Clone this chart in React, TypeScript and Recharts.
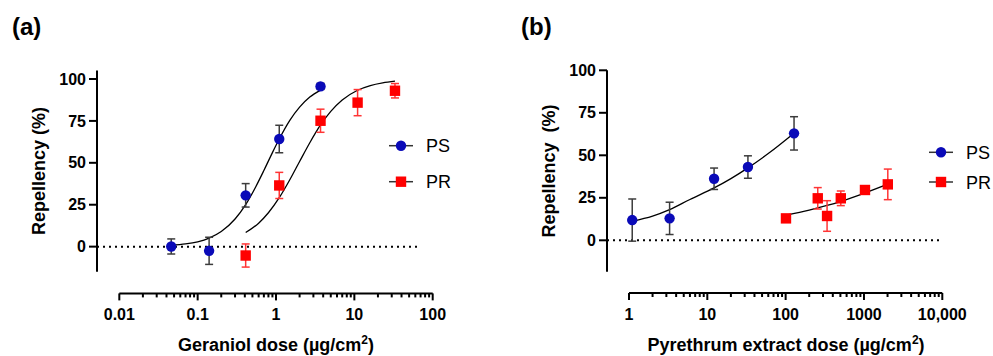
import { ComposedChart, Line, Scatter, ErrorBar, XAxis, YAxis, ReferenceLine } from 'recharts'

const FONT = '"Liberation Sans", Arial, Helvetica, sans-serif'
const BLUE = '#0a0ab8'
const RED = '#ff0000'
const PS_ERR = '#3c3c3c'
const PR_ERR = '#ff3535'

// (a) geraniol
const gerPsDose = [0.046, 0.14, 0.41, 1.1, 3.7]
const gerPsRep = [0.1, -2.5, 30.6, 64.2, 95.6]
const gerPsSem = [4.5, 8.1, 7.0, 8.2, 1.8]
const gerPrDose = [0.41, 1.1, 3.7, 11, 33]
const gerPrRep = [-5.3, 36.5, 75.1, 85.9, 93.0]
const gerPrSem = [6.9, 7.8, 6.9, 7.8, 4.3]
// fitted curves
const gerPsFitDose = [0.046, 0.07, 0.1, 0.14, 0.2, 0.3, 0.41, 0.55, 0.7, 0.9, 1.1, 1.5, 2, 2.7, 3.7]
const gerPsFitRep = [0.8, 1.6, 2.9, 5.1, 9.0, 16.5, 25.1, 35.6, 45.4, 56.1, 64.2, 75.3, 83.2, 89.2, 93.4]
const gerPrFitDose = [0.41, 0.6, 0.8, 1.1, 1.5, 2, 2.7, 3.7, 5, 7, 11, 16, 23, 33]
const gerPrFitRep = [8.4, 14.0, 20.2, 29.2, 39.9, 50.8, 62.0, 72.6, 80.7, 87.5, 93.3, 96.1, 97.7, 98.7]

// (b) pyrethrum extract
const pyrPsDose = [1.1, 3.3, 12.2, 33, 128]
const pyrPsRep = [11.9, 12.9, 36.2, 43.1, 62.9]
const pyrPsSem = [12.4, 9.5, 6.3, 6.6, 9.8]
const pyrPrDose = [101, 257, 338, 506, 1030, 2015]
const pyrPrRep = [12.9, 24.7, 14.3, 24.7, 29.6, 32.9]
const pyrPrSem = [1.5, 6.3, 9.0, 4.3, 2.5, 9.0]
const pyrPsFitDose = [1.1, 2, 3.3, 6, 12.2, 20, 33, 60, 128]
const pyrPsFitRep = [11.2, 14.2, 18.0, 24.0, 30.8, 36.3, 42.6, 51.0, 63.0]
const pyrPrFitDose = [101, 200, 338, 500, 1000, 2015]
const pyrPrFitRep = [14.8, 17.8, 20.5, 22.8, 27.6, 33.0]

const gerTicks = [0.01, 0.1, 1, 10, 100]
const gerTickLabels = ['0.01', '0.1', '1', '10', '100']
const pyrTicks = [1, 10, 100, 1000, 10000]
const pyrTickLabels = ['1', '10', '100', '1000', '10,000']
const repTicks = [0, 25, 50, 75, 100]

const points = (xs: number[], ys: number[], es?: number[]) =>
  xs.map((x, i) => ({ x, y: ys[i], err: es ? es[i] : 0 }))

const minorTicks = (majors: number[]) =>
  majors.slice(0, -1).flatMap((m) => [2, 3, 4, 5, 6, 7, 8, 9].map((k) => m * k))

function XTick(props: any) {
  const { x, y, payload, majors, labels } = props
  const idx = majors.findIndex((m: number) => Math.abs(m - payload.value) < m * 1e-6)
  const major = idx >= 0
  return (
    <g>
      <line x1={x} x2={x} y1={y} y2={y + (major ? 7 : 4)} stroke="#000" strokeWidth={2} />
      {major && (
        <text x={x} y={y + 27} textAnchor="middle" fontSize={16} fontWeight="bold" fontFamily={FONT} fill="#000">
          {labels[idx]}
        </text>
      )}
    </g>
  )
}

const Circle = (p: any) => <circle cx={p.cx} cy={p.cy} r={5.2} fill={BLUE} />
const Square = (p: any) => <rect x={p.cx - 5.2} y={p.cy - 5.2} width={10.4} height={10.4} fill={RED} />

type PanelProps = {
  left: number
  width: number
  margin: { top: number; right: number; bottom: number; left: number }
  xDomain: [number, number]
  yDomain: [number, number]
  yAxisSpan: [number, number]
  zeroLineEnd: number
  majors: number[]
  labels: string[]
  ps: any[]
  pr: any[]
  psFit: any[]
  prFit: any[]
}

function Panel(p: PanelProps) {
  const [x0, x1] = p.xDomain
  const [y0] = p.yDomain
  return (
    <div style={{ position: 'absolute', left: p.left, top: 0 }}>
      <ComposedChart width={p.width} height={356} margin={p.margin}>
        <XAxis
          dataKey="x"
          type="number"
          scale="log"
          domain={p.xDomain}
          allowDataOverflow
          ticks={[...p.majors, ...minorTicks(p.majors)]}
          interval={0}
          axisLine={false}
          tickLine={false}
          tickSize={0}
          tickMargin={0}
          height={40}
          tick={<XTick majors={p.majors} labels={p.labels} />}
        />
        <YAxis
          type="number"
          domain={p.yDomain}
          allowDataOverflow
          ticks={repTicks}
          interval={0}
          width={60}
          axisLine={false}
          tickLine={{ stroke: '#000', strokeWidth: 2 }}
          tickSize={8}
          tickMargin={3}
          tick={{ fill: '#000', fontSize: 16, fontWeight: 'bold', fontFamily: FONT }}
        />
        <ReferenceLine
          segment={[{ x: x0, y: p.yAxisSpan[0] }, { x: x0, y: p.yAxisSpan[1] }]}
          stroke="#000"
          strokeWidth={2}
          ifOverflow="visible"
        />
        <ReferenceLine
          segment={[{ x: p.majors[0], y: y0 }, { x: x1, y: y0 }]}
          stroke="#000"
          strokeWidth={2}
          ifOverflow="visible"
        />
        <ReferenceLine
          segment={[{ x: x0, y: 0 }, { x: p.zeroLineEnd, y: 0 }]}
          stroke="#000"
          strokeWidth={2}
          strokeDasharray="2 4"
          ifOverflow="visible"
        />
        <Line data={p.psFit} dataKey="y" type="monotone" stroke="#000" strokeWidth={1.3} dot={false} isAnimationActive={false} legendType="none" />
        <Line data={p.prFit} dataKey="y" type="monotone" stroke="#000" strokeWidth={1.3} dot={false} isAnimationActive={false} legendType="none" />
        <Scatter data={p.ps} dataKey="y" shape={Circle} isAnimationActive={false}>
          <ErrorBar dataKey="err" direction="y" width={4} stroke={PS_ERR} strokeWidth={1.5} />
        </Scatter>
        <Scatter data={p.pr} dataKey="y" shape={Square} isAnimationActive={false}>
          <ErrorBar dataKey="err" direction="y" width={4} stroke={PR_ERR} strokeWidth={1.5} />
        </Scatter>
      </ComposedChart>
    </div>
  )
}

function LegendRows({ x, rows }: { x: number; rows: number[] }) {
  return (
    <g>
      <line x1={x} x2={x + 24} y1={rows[0]} y2={rows[0]} stroke="#333" strokeWidth={1.5} />
      <circle cx={x + 12} cy={rows[0]} r={5.2} fill={BLUE} />
      <text x={x + 37} y={rows[0] + 6.5} fontSize={18} fontFamily={FONT} fill="#000">PS</text>
      <line x1={x} x2={x + 24} y1={rows[1]} y2={rows[1]} stroke="#333" strokeWidth={1.5} />
      <rect x={x + 6.8} y={rows[1] - 5.2} width={10.4} height={10.4} fill={RED} />
      <text x={x + 37} y={rows[1] + 6.5} fontSize={18} fontFamily={FONT} fill="#000">PR</text>
    </g>
  )
}

export default function App() {
  return (
    <div style={{ position: 'relative', width: 993, height: 356, background: '#fff', overflow: 'hidden' }}>
      <style>{'body{margin:0}'}</style>
      <Panel
        left={0}
        width={490}
        margin={{ top: 79, right: 57.3, bottom: 22.6, left: 37 }}
        xDomain={[0.00519, 100]}
        yDomain={[-27.9, 100]}
        yAxisSpan={[-15, 105]}
        zeroLineEnd={70}
        majors={gerTicks}
        labels={gerTickLabels}
        ps={points(gerPsDose, gerPsRep, gerPsSem)}
        pr={points(gerPrDose, gerPrRep, gerPrSem)}
        psFit={points(gerPsFitDose, gerPsFitRep)}
        prFit={points(gerPrFitDose, gerPrFitRep)}
      />
      <Panel
        left={500}
        width={493}
        margin={{ top: 70.3, right: 50.7, bottom: 23, left: 47 }}
        xDomain={[0.524, 10000]}
        yDomain={[-31, 100]}
        yAxisSpan={[-18.5, 100]}
        zeroLineEnd={10000}
        majors={pyrTicks}
        labels={pyrTickLabels}
        ps={points(pyrPsDose, pyrPsRep, pyrPsSem)}
        pr={points(pyrPrDose, pyrPrRep, pyrPrSem)}
        psFit={points(pyrPsFitDose, pyrPsFitRep)}
        prFit={points(pyrPrFitDose, pyrPrFitRep)}
      />
      <svg width={993} height={356} style={{ position: 'absolute', left: 0, top: 0, pointerEvents: 'none' }}>
        <g fontFamily={FONT} fill="#000">
          <text x={12} y={35} fontSize={24} fontWeight="bold">(a)</text>
          <text x={521} y={35} fontSize={24} fontWeight="bold">(b)</text>
          <text transform="translate(44.6,171) rotate(-90)" textAnchor="middle" fontSize={18} fontWeight="bold">
            Repellency (%)
          </text>
          <text transform="translate(554.6,171) rotate(-90)" textAnchor="middle" fontSize={18} fontWeight="bold" style={{ whiteSpace: 'pre' }}>
            {'Repellency  (%)'}
          </text>
          <text x={276} y={351} textAnchor="middle" fontSize={18} fontWeight="bold">
            Geraniol dose (µg/cm<tspan dy={-7} fontSize={12}>2</tspan><tspan dy={7}>)</tspan>
          </text>
          <text x={786} y={351} textAnchor="middle" fontSize={18} fontWeight="bold">
            Pyrethrum extract dose (µg/cm<tspan dy={-7} fontSize={12}>2</tspan><tspan dy={7}>)</tspan>
          </text>
        </g>
        <LegendRows x={389} rows={[145.7, 181.7]} />
        <LegendRows x={929} rows={[152.3, 182]} />
      </svg>
    </div>
  )
}
